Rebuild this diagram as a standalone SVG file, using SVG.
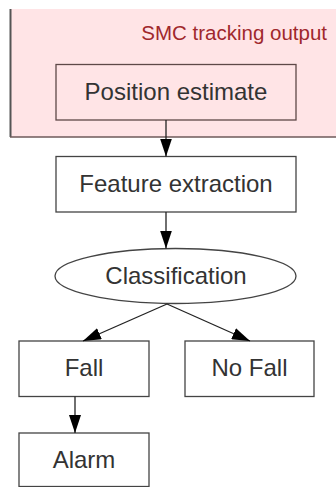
<svg xmlns="http://www.w3.org/2000/svg" width="336" height="487" viewBox="0 0 336 487">
<style>
.box{fill:#ffffff;stroke:#444;stroke-width:1.3}
.pbox{fill:#ffe4e6;stroke:#5e4848;stroke-width:1.3}
.lbl{font-family:"Liberation Sans",Arial,sans-serif;font-size:24px;fill:#333;text-anchor:middle}
.edge{stroke:#222;stroke-width:1.3;fill:none;marker-end:url(#ah)}
</style>
<defs>
<marker id="ah" viewBox="0 0 18 12" refX="18" refY="6" markerWidth="18" markerHeight="12" markerUnits="userSpaceOnUse" orient="auto">
<path d="M0,0 L18,6 L0,12 Z" fill="#000"/>
</marker>
</defs>
<g id="smc-container">
<rect x="10" y="9" width="340" height="128" fill="#ffe4e6" stroke="none"/>
<line x1="10.5" y1="9" x2="10.5" y2="137" stroke="#555" stroke-width="2"/>
<line x1="10" y1="137" x2="336" y2="137" stroke="#6e5a5a" stroke-width="1.5"/>
<text x="327" y="40" font-family="'Liberation Sans',Arial,sans-serif" font-size="20.5" fill="#a0282c" text-anchor="end">SMC tracking output</text>
</g>
<g id="position-estimate">
<rect class="pbox" x="56" y="64.5" width="240" height="55.5"/>
<text class="lbl" x="176" y="99.5">Position estimate</text>
</g>
<g id="feature-extraction">
<rect class="box" x="56" y="156.5" width="240" height="55.5"/>
<text class="lbl" x="176" y="192">Feature extraction</text>
</g>
<g id="classification">
<ellipse cx="175.5" cy="276" rx="120.5" ry="27.5" fill="#fff" stroke="#444" stroke-width="1.3"/>
<text class="lbl" x="176" y="284">Classification</text>
</g>
<g id="fall">
<rect class="box" x="19" y="341" width="130" height="55.5"/>
<text class="lbl" x="84" y="376">Fall</text>
</g>
<g id="no-fall">
<rect class="box" x="185" y="341" width="129" height="55.5"/>
<text class="lbl" x="249.5" y="376">No Fall</text>
</g>
<g id="alarm">
<rect class="box" x="19" y="433" width="130" height="53.5"/>
<text class="lbl" x="84" y="467.5">Alarm</text>
</g>
<g id="connectors">
<line class="edge" x1="166" y1="120" x2="166" y2="156.5"/>
<line class="edge" x1="166" y1="212" x2="166" y2="248.5"/>
<line class="edge" x1="167" y1="304" x2="83" y2="341"/>
<line class="edge" x1="167" y1="304" x2="250" y2="341"/>
<line class="edge" x1="75" y1="396.5" x2="75" y2="433"/>
</g>
</svg>
